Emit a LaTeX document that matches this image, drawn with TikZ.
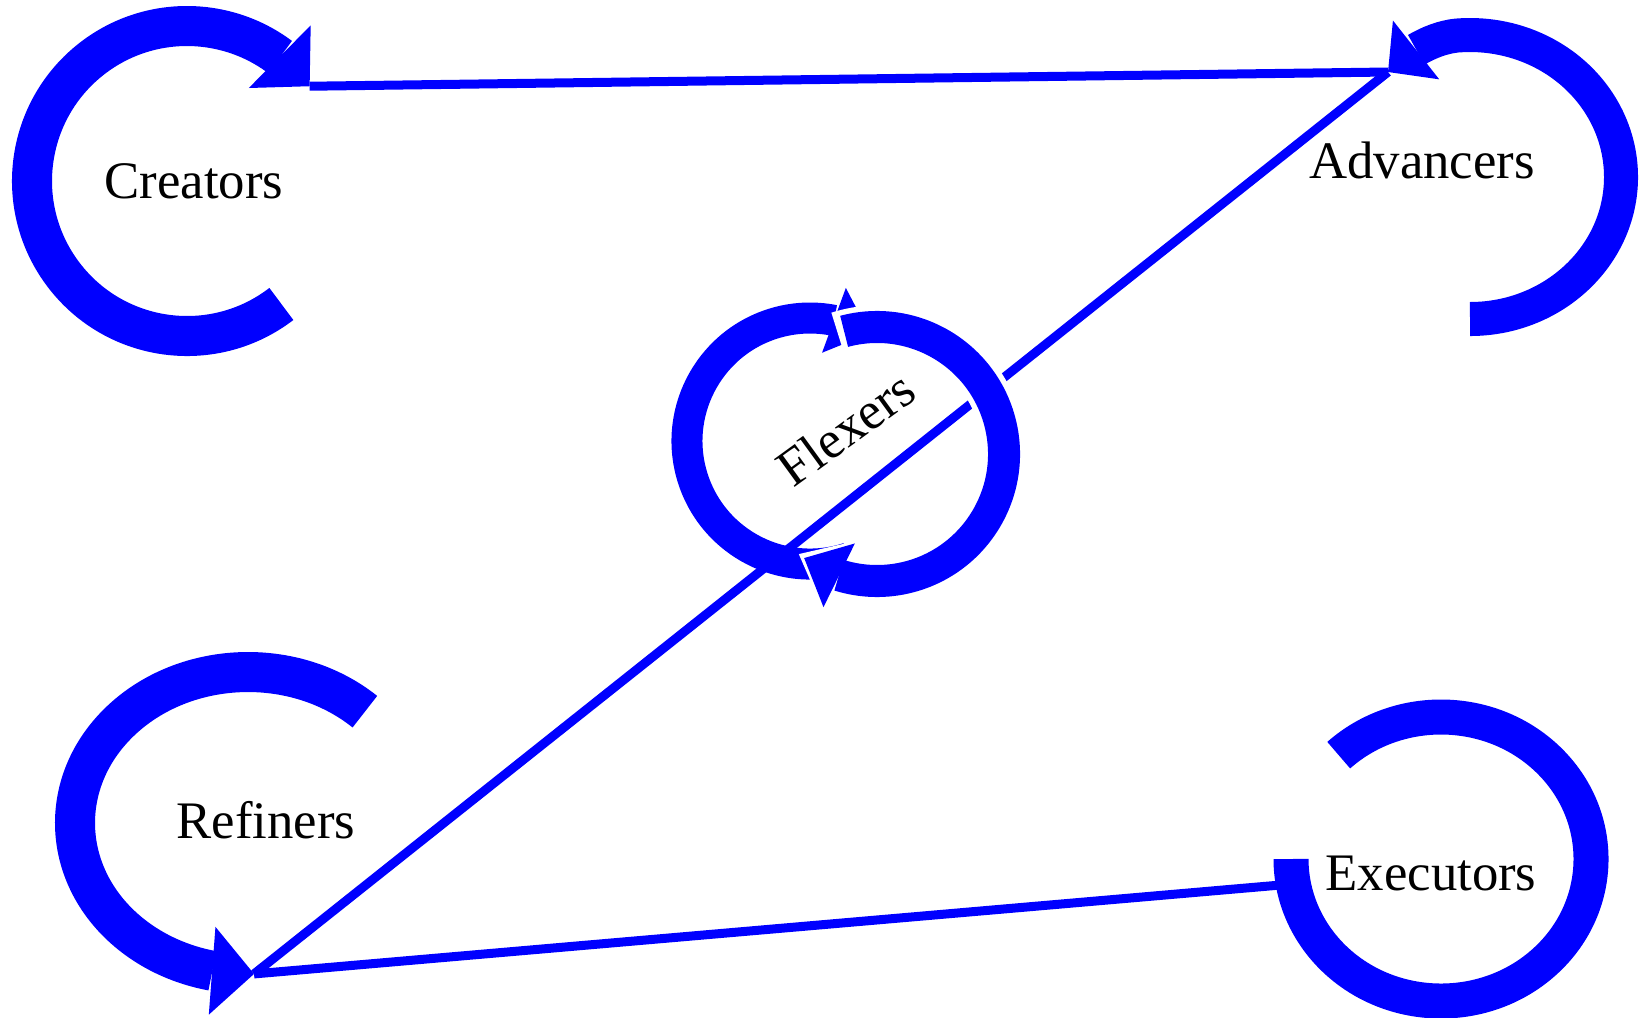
\documentclass[tikz,border=0pt]{standalone}
\usepackage{fontspec}
\setmainfont{Liberation Serif}
\usetikzlibrary{arrows.meta,bending}

\begin{document}
\begin{tikzpicture}[x=0.01cm,y=0.01cm,
  ring/.style={blue,line width=#1,-{Triangle[length=0pt 1.05,width=0pt 2.2,line width=0pt]}},
  band/.style={blue,line width=#1},
  conn/.style={blue,line width=0.09cm},
  lbl/.style={font=\fontsize{15}{18}\selectfont,inner sep=1pt}]
  \useasboundingbox (0,0) rectangle (1646,-1017);
  \clip (0,0) rectangle (1646,-1017);
  % the four corner cycles
  \draw[ring=0.40cm] (187,-181) ++(307.5:155) arc[start angle=307.5,end angle=37.7,radius=155] coordinate (crtip);
  \draw[ring=0.34cm] (1470,-177) ++(-90:151 and 142) arc[start angle=-90,end angle=95,x radius=151,y radius=142]
    .. controls (1432,-38) and (1405,-54) .. (1388,-72) coordinate (adtip);
  \draw[ring=0.40cm] (248,-823) ++(47.5:173 and 151) arc[start angle=47.5,end angle=272,x radius=173,y radius=151] coordinate (retip);
  \coordinate (exout) at (1292,-884);
  % left half of the middle cycle
  \draw[ring=0.31cm,-{Triangle[length=0.38cm,width=0.69cm,line width=0pt]}] (810,-441) ++(288:123) arc[start angle=288,end angle=61,radius=123];
  % links
  \draw[conn] (adtip) -- (crtip);
  \draw[conn] (retip) -- (adtip);
  \draw[conn] (exout) -- (retip);
  \draw[band=0.35cm] (1441,-859) ++(133:150 and 142) arc[start angle=133,end angle=-180,x radius=150,y radius=142];
  % right half of the middle cycle, white edge first
  \draw[white,line width=0.43cm,-{Triangle[length=0.50cm,width=0.83cm,line width=0pt]}] (877,-454) ++(108:127) arc[start angle=108,end angle=-128,radius=127];
  \draw[ring=0.32cm,-{Triangle[length=0.39cm,width=0.71cm,line width=0pt]}] (877,-454) ++(105:127) arc[start angle=105,end angle=-125,radius=127];
  % labels
  \node[lbl] (cre) at (194,-181) {Creators};
  \node[lbl] (adv) at (1422,-160) {Advancers};
  \node[lbl,rotate=36] (flx) at (846,-428) {Flexers};
  \node[lbl] (ref) at (266,-820) {Refiners};
  \node[lbl] (exe) at (1431,-873) {Executors};
\end{tikzpicture}
\end{document}
